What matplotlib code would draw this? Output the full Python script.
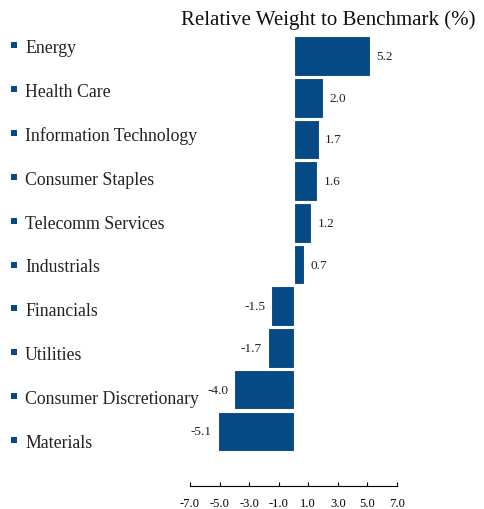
import matplotlib
matplotlib.use("Agg")
import matplotlib.pyplot as plt
from matplotlib.patches import Rectangle

categories = ["Energy", "Health Care", "Information Technology", "Consumer Staples",
              "Telecomm Services", "Industrials", "Financials", "Utilities",
              "Consumer Discretionary", "Materials"]
values = [5.2, 2.0, 1.7, 1.6, 1.2, 0.7, -1.5, -1.7, -4.0, -5.1]
xticks = [-7.0, -5.0, -3.0, -1.0, 1.0, 3.0, 5.0, 7.0]
title = "Relative Weight to Benchmark (%)"

color = "#054a85"
W, H = 484, 510
fig = plt.figure(figsize=(W / 100, H / 100), dpi=100)
plt.rcParams['font.family'] = ['Liberation Serif', 'DejaVu Serif']

ax = fig.add_axes([190 / W, 1 - 487 / H, 207 / W, 452 / H])
pos = list(range(len(categories)))
ax.barh(pos, values, height=0.95, color=color, edgecolor="white", linewidth=0.8)
ax.set_xlim(-7, 7)
ax.set_ylim(10.31, -0.53)
ax.set_xticks(xticks)
ax.set_xticklabels([f"{t:.1f}" for t in xticks], fontsize=9)
ax.tick_params(axis="x", direction="in", length=3, width=0.8, pad=8)
ax.set_yticks([])
for s in ["top", "right", "left"]:
    ax.spines[s].set_visible(False)
ax.spines["bottom"].set_linewidth(0.8)

for p, v in zip(pos, values):
    if v >= 0:
        ax.annotate(f"{v:.1f}", (v, p), xytext=(4.5, 0), textcoords="offset points",
                    ha="left", va="center", fontsize=9.5, color="#222222")
    else:
        ax.annotate(f"{v:.1f}", (v, p), xytext=(-4.5, 0), textcoords="offset points",
                    ha="right", va="center", fontsize=9.5, color="#222222")

for i, c in enumerate(categories):
    yb = 53 + 43.9 * i
    fig.text(25 / W, 1 - yb / H, c, ha="left", va="baseline", fontsize=12.8, color="#222222")
    fig.add_artist(Rectangle((11 / W, 1 - (yb - 4) / H), 6 / W, 6 / H,
                             transform=fig.transFigure, color=color, lw=0))

fig.text(328 / W, 1 - 20 / H, title, ha="center", va="center", fontsize=15, color="#111111")

fig.savefig("out.png", dpi=100)
